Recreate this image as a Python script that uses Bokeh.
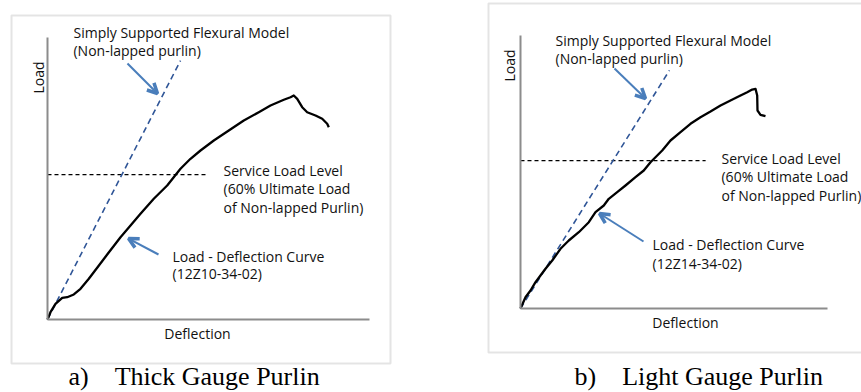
from bokeh.plotting import figure
from bokeh.models import (Range1d, LinearAxis, FixedTicker, Arrow, OpenHead,
                          ColumnDataSource, BoxAnnotation)
from bokeh.layouts import row
from bokeh.embed import file_html
from bokeh.resources import INLINE
from bokeh.core.properties import value

# ---------------- data (normalised deflection / load) ----------------
# a) Thick gauge purlin, test 12Z10-34-02
thick_deflection = [0, 0.93, 2.48, 4.57, 6.12, 8.17, 10.25, 12.83, 15.43, 18.54, 22.67, 25.78,
                    28.88, 33.01, 37.17, 41.30, 44.41, 47.52, 51.65, 56.30, 60.96, 65.62, 69.25,
                    73.39, 75.47, 76.49, 77.55, 79.10, 80.65, 83.23, 85.31, 86.86, 87.36]
thick_load = [0, 2.59, 5.57, 7.70, 7.91, 8.87, 10.89, 14.43, 18.33, 23.05, 29.18, 33.33,
              37.48, 42.80, 47.52, 53.44, 56.99, 59.93, 63.48, 67.02, 70.57, 73.51, 75.89,
              77.91, 78.83, 79.43, 78.26, 75.28, 73.51, 72.34, 71.17, 69.40, 68.19]
thick_model_deflection = [0, 41.3]
thick_model_load = [0, 91.8]
thick_service_load = 51.4
thick_service_extent = [0, 49.7]

# b) Light gauge purlin, test 12Z14-34-02
light_deflection = [0, 1.63, 3.26, 4.89, 6.51, 8.14, 10.33, 13.03, 15.73, 18.99, 22.25, 24.43,
                    27.13, 28.76, 31.50, 34.20, 37.46, 40.16, 42.35, 43.97, 46.16, 48.86, 52.12,
                    55.37, 58.63, 61.89, 65.15, 68.40, 71.66, 73.84, 75.47, 76.55, 77.10, 77.20,
                    78.18, 79.80]
light_load = [0, 4.14, 6.59, 9.63, 12.09, 14.54, 17.58, 21.87, 24.91, 27.95, 31.61, 35.27,
              37.73, 40.18, 42.60, 45.05, 48.10, 50.55, 53.59, 55.42, 57.88, 61.54, 64.58,
              67.66, 70.07, 72.16, 74.36, 76.19, 78.02, 79.23, 80.22, 80.48, 78.02, 72.53,
              70.95, 70.44]
light_model_deflection = [0, 48.5]
light_model_load = [0, 87.2]
light_service_load = 54.2
light_service_extent = [0, 60.3]

axis_extent_x = 100
axis_extent_y = 100

NBSP = "\u00a0"
TXT_FONT = "Open Sans"
TXT_COLOR = "#111111"
ARROW_COLOR = "#4A7EBB"
MODEL_COLOR = "#2F5597"
BOX_COLOR = "#a6a6a6"


def make_panel(width, height, xr, yr, box, curve_x, curve_y, model_x, model_y,
               service_y, service_x, labels, arrows, load_pos, defl_pos, caption, cap_pos):
    p = figure(width=width, height=height, output_backend="svg", toolbar_location=None,
               x_range=Range1d(*xr), y_range=Range1d(*yr),
               x_axis_location=None, y_axis_location=None,
               min_border=0, min_border_left=0, min_border_right=0,
               min_border_top=0, min_border_bottom=0)
    p.grid.visible = False
    p.background_fill_color = "white"
    p.border_fill_color = "white"
    p.outline_line_color = None

    # surrounding box of the panel
    bl, br, bt, bb = box
    p.add_layout(BoxAnnotation(left=bl, right=br, top=bt, bottom=bb, fill_color=None,
                               line_color=BOX_COLOR, line_width=2, level="underlay"))

    for dim, side in (("x", "below"), ("y", "left")):
        ax = LinearAxis(fixed_location=0, ticker=FixedTicker(ticks=[]),
                        bounds=(0, axis_extent_x if dim == "x" else axis_extent_y))
        ax.axis_line_color = "#8c8c8c"
        ax.axis_line_width = 2
        ax.major_tick_line_color = None
        ax.minor_tick_line_color = None
        ax.major_tick_out = 0
        ax.major_tick_in = 0
        ax.minor_tick_out = 0
        ax.minor_tick_in = 0
        ax.major_label_standoff = 0
        ax.major_label_text_font_size = "0px"
        p.add_layout(ax, side)

    # service load level
    p.line(service_x, [service_y, service_y], line_color="black", line_width=1.3, line_dash="4 3")
    # simply supported flexural model
    p.line(model_x, model_y, line_color=MODEL_COLOR, line_width=1.6, line_dash="6 4")
    # measured load-deflection curve
    p.line(curve_x, curve_y, line_color="black", line_width=2.3, line_join="round")

    src = ColumnDataSource(dict(x=[l[1] for l in labels], y=[l[2] for l in labels],
                                t=[l[0] for l in labels]))
    p.text("x", "y", text="t", source=src, text_font=value(TXT_FONT), text_font_size="14px",
           text_color=TXT_COLOR, text_align="left", text_baseline="middle")
    p.text([load_pos[0]], [load_pos[1]], text=["Load"], angle=1.5708, text_font=value(TXT_FONT),
           text_font_size="14px", text_color=TXT_COLOR, text_align="center", text_baseline="middle")
    p.text([defl_pos[0]], [defl_pos[1]], text=["Deflection"], text_font=value(TXT_FONT),
           text_font_size="14px", text_color=TXT_COLOR, text_align="center", text_baseline="middle")

    for (x0, y0, x1, y1) in arrows:
        p.add_layout(Arrow(x_start=x0, y_start=y0, x_end=x1, y_end=y1,
                           line_color=ARROW_COLOR, line_width=2,
                           end=OpenHead(size=10, line_color=ARROW_COLOR, line_width=3.5)))

    # caption
    p.text([cap_pos[0]], [cap_pos[1]], text=[caption], text_font=value("Liberation Serif"),
           text_font_size="26px", text_color="black", text_align="left",
           text_baseline="middle")
    return p


pa = make_panel(
    480, 392,
    (-14.596, 134.472), (-25.887, 113.121),
    (-11.18, 106.52, 107.80, -15.60),
    thick_deflection, thick_load, thick_model_deflection, thick_model_load,
    thick_service_load, thick_service_extent,
    [("Simply Supported Flexural Model", 8.07, 101.8),
     ("(Non-lapped purlin)", 8.07, 95.4),
     ("Service Load Level", 54.66, 52.84),
     ("(60% Ultimate Load", 54.66, 46.45),
     ("of Non-lapped Purlin)", 54.66, 39.72),
     ("Load - Deflection Curve", 38.82, 22.34),
     ("(12Z10-34-02)", 38.82, 16.31)],
    [(24.84, 90.78, 34.16, 80.14), (34.47, 23.05, 25.16, 28.72)],
    (-2.8, 85.8), (46.58, -4.96),
    "a)" + NBSP * 4 + "Thick Gauge Purlin", (6.5, -20.2))

pb = make_panel(
    381, 392,
    (-13.029, 111.075), (-30.769, 112.821),
    (-10.423, 115.0, 111.722, -16.117),
    light_deflection, light_load, light_model_deflection, light_model_load,
    light_service_load, light_service_extent,
    [("Simply Supported Flexural Model", 11.40, 98.17),
     ("(Non-lapped purlin)", 11.40, 91.58),
     ("Service Load Level", 65.47, 54.95),
     ("(60% Ultimate Load", 65.47, 48.35),
     ("of Non-lapped Purlin)", 65.47, 41.39),
     ("Load - Deflection Curve", 43.0, 23.44),
     ("(12Z14-34-02)", 43.0, 16.48)],
    [(30.62, 87.91, 40.72, 76.92), (40.07, 24.54, 25.73, 34.80)],
    (-3.58, 89.0), (53.75, -5.13),
    "b)" + NBSP * 4 + "Light Gauge Purlin", (17.6, -24.9))

layout = row(pa, pb)
open("out.html", "w").write(file_html(layout, INLINE))
